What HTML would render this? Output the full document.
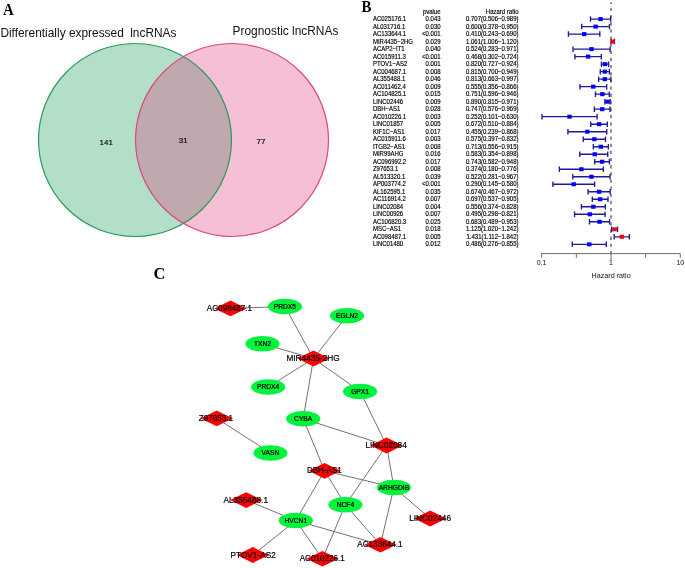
<!DOCTYPE html><html><head><meta charset="utf-8"><style>html,body{margin:0;padding:0;background:#fff;}svg{display:block;will-change:transform}.t{font-size:6px;fill:#000;stroke:#000;stroke-width:.15px}text{font-family:"Liberation Sans",sans-serif}.s{font-family:"Liberation Serif",serif;font-weight:bold}</style></head><body>
<svg width="685" height="568" viewBox="0 0 685 568">
<text class="s" transform="translate(3.1 15.1) scale(0.89 1)" font-size="16.8">A</text>
<text x="0.4" y="37" font-size="11.9" fill="#111">Differentially expressed</text>
<text x="130.2" y="37" font-size="11.9" fill="#111">lncRNAs</text>
<text x="232.6" y="35.3" font-size="11.9" fill="#111">Prognostic lncRNAs</text>
<defs><clipPath id="cg"><circle cx="135" cy="140" r="96.5"/></clipPath></defs>
<circle cx="135" cy="140" r="96.5" fill="#b3dfc8"/>
<circle cx="232" cy="140" r="96.5" fill="#f5bfd6"/>
<circle cx="232" cy="140" r="96.5" fill="#c0a9ae" clip-path="url(#cg)"/>
<circle cx="135" cy="140" r="96.5" fill="none" stroke="#2a9a5c" stroke-width="1.2"/>
<circle cx="232" cy="140" r="96.5" fill="none" stroke="#d9487e" stroke-width="1.2"/>
<text x="106.2" y="145.1" font-size="8" text-anchor="middle" fill="#000" stroke="#000" stroke-width="0.15">141</text>
<text x="183.3" y="143" font-size="8" text-anchor="middle" fill="#000" stroke="#000" stroke-width="0.15">31</text>
<text x="261" y="144" font-size="8" text-anchor="middle" fill="#000" stroke="#000" stroke-width="0.15">77</text>
<text class="s" transform="translate(361.6 11.8) scale(0.89 1)" font-size="16.8">B</text>
<text transform="translate(440.6 13.8) scale(1 1.06)" class="t" text-anchor="end">pvalue</text>
<text transform="translate(518.5 13.8) scale(1 1.06)" class="t" text-anchor="end">Hazard ratio</text>
<line x1="611.0" y1="2.2" x2="611.0" y2="259.5" stroke="#5a5a5a" stroke-width="1.35" stroke-dasharray="3.3 3.85" stroke-dashoffset="1.55"/>
<text transform="translate(372.9 21.20) scale(1 1.06)" class="t">AC025176.1</text>
<text transform="translate(440.6 21.20) scale(1 1.06)" class="t" text-anchor="end">0.043</text>
<text transform="translate(518.5 21.20) scale(1 1.06)" class="t" text-anchor="end">0.707(0.506−0.989)</text>
<path d="M590.50 19.10H610.67M590.50 16.35V21.85M610.67 16.35V21.85" stroke="#1c1c96" stroke-width="1.35" fill="none"/>
<rect x="598.36" y="17.10" width="4.4" height="4" fill="#0000ff"/>
<text transform="translate(372.9 28.71) scale(1 1.06)" class="t">AL031716.1</text>
<text transform="translate(440.6 28.71) scale(1 1.06)" class="t" text-anchor="end">0.030</text>
<text transform="translate(518.5 28.71) scale(1 1.06)" class="t" text-anchor="end">0.600(0.378−0.950)</text>
<path d="M581.72 26.61H609.46M581.72 23.86V29.36M609.46 23.86V29.36" stroke="#1c1c96" stroke-width="1.35" fill="none"/>
<rect x="593.43" y="24.61" width="4.4" height="4" fill="#0000ff"/>
<text transform="translate(372.9 36.21) scale(1 1.06)" class="t">AC133644.1</text>
<text transform="translate(440.6 36.21) scale(1 1.06)" class="t" text-anchor="end">&lt;0.001</text>
<text transform="translate(518.5 36.21) scale(1 1.06)" class="t" text-anchor="end">0.410(0.243−0.690)</text>
<path d="M568.42 34.11H599.83M568.42 31.36V36.86M599.83 31.36V36.86" stroke="#1c1c96" stroke-width="1.35" fill="none"/>
<rect x="581.97" y="32.11" width="4.4" height="4" fill="#0000ff"/>
<text transform="translate(372.9 43.72) scale(1 1.06)" class="t">MIR4435−2HG</text>
<text transform="translate(440.6 43.72) scale(1 1.06)" class="t" text-anchor="end">0.029</text>
<text transform="translate(518.5 43.72) scale(1 1.06)" class="t" text-anchor="end">1.061(1.006−1.120)</text>
<path d="M611.18 41.62H614.41M611.18 38.87V44.37M614.41 38.87V44.37" stroke="#1c1c96" stroke-width="1.35" fill="none"/>
<rect x="610.58" y="39.62" width="4.4" height="4" fill="#ff0000"/>
<text transform="translate(372.9 51.23) scale(1 1.06)" class="t">ACAP2−IT1</text>
<text transform="translate(440.6 51.23) scale(1 1.06)" class="t" text-anchor="end">0.040</text>
<text transform="translate(518.5 51.23) scale(1 1.06)" class="t" text-anchor="end">0.524(0.283−0.971)</text>
<path d="M573.01 49.13H610.11M573.01 46.38V51.88M610.11 46.38V51.88" stroke="#1c1c96" stroke-width="1.35" fill="none"/>
<rect x="589.35" y="47.13" width="4.4" height="4" fill="#0000ff"/>
<text transform="translate(372.9 58.73) scale(1 1.06)" class="t">AC015911.3</text>
<text transform="translate(440.6 58.73) scale(1 1.06)" class="t" text-anchor="end">&lt;0.001</text>
<text transform="translate(518.5 58.73) scale(1 1.06)" class="t" text-anchor="end">0.468(0.302−0.724)</text>
<path d="M574.96 56.63H601.28M574.96 53.88V59.38M601.28 53.88V59.38" stroke="#1c1c96" stroke-width="1.35" fill="none"/>
<rect x="585.95" y="54.63" width="4.4" height="4" fill="#0000ff"/>
<text transform="translate(372.9 66.24) scale(1 1.06)" class="t">PTOV1−AS2</text>
<text transform="translate(440.6 66.24) scale(1 1.06)" class="t" text-anchor="end">0.001</text>
<text transform="translate(518.5 66.24) scale(1 1.06)" class="t" text-anchor="end">0.820(0.727−0.924)</text>
<path d="M601.40 64.14H608.62M601.40 61.39V66.89M608.62 61.39V66.89" stroke="#1c1c96" stroke-width="1.35" fill="none"/>
<rect x="602.83" y="62.14" width="4.4" height="4" fill="#0000ff"/>
<text transform="translate(372.9 73.75) scale(1 1.06)" class="t">AC004687.1</text>
<text transform="translate(440.6 73.75) scale(1 1.06)" class="t" text-anchor="end">0.008</text>
<text transform="translate(518.5 73.75) scale(1 1.06)" class="t" text-anchor="end">0.815(0.700−0.949)</text>
<path d="M600.27 71.65H609.42M600.27 68.90V74.40M609.42 68.90V74.40" stroke="#1c1c96" stroke-width="1.35" fill="none"/>
<rect x="602.64" y="69.65" width="4.4" height="4" fill="#0000ff"/>
<text transform="translate(372.9 81.26) scale(1 1.06)" class="t">AL355488.1</text>
<text transform="translate(440.6 81.26) scale(1 1.06)" class="t" text-anchor="end">0.046</text>
<text transform="translate(518.5 81.26) scale(1 1.06)" class="t" text-anchor="end">0.813(0.663−0.997)</text>
<path d="M598.63 79.16H610.91M598.63 76.41V81.91M610.91 76.41V81.91" stroke="#1c1c96" stroke-width="1.35" fill="none"/>
<rect x="602.57" y="77.16" width="4.4" height="4" fill="#0000ff"/>
<text transform="translate(372.9 88.76) scale(1 1.06)" class="t">AC011462.4</text>
<text transform="translate(440.6 88.76) scale(1 1.06)" class="t" text-anchor="end">0.009</text>
<text transform="translate(518.5 88.76) scale(1 1.06)" class="t" text-anchor="end">0.555(0.356−0.866)</text>
<path d="M579.92 86.66H606.67M579.92 83.91V89.41M606.67 83.91V89.41" stroke="#1c1c96" stroke-width="1.35" fill="none"/>
<rect x="591.08" y="84.66" width="4.4" height="4" fill="#0000ff"/>
<text transform="translate(372.9 96.27) scale(1 1.06)" class="t">AC104825.1</text>
<text transform="translate(440.6 96.27) scale(1 1.06)" class="t" text-anchor="end">0.015</text>
<text transform="translate(518.5 96.27) scale(1 1.06)" class="t" text-anchor="end">0.751(0.596−0.946)</text>
<path d="M595.42 94.17H609.33M595.42 91.42V96.92M609.33 91.42V96.92" stroke="#1c1c96" stroke-width="1.35" fill="none"/>
<rect x="600.18" y="92.17" width="4.4" height="4" fill="#0000ff"/>
<text transform="translate(372.9 103.78) scale(1 1.06)" class="t">LINC02446</text>
<text transform="translate(440.6 103.78) scale(1 1.06)" class="t" text-anchor="end">0.009</text>
<text transform="translate(518.5 103.78) scale(1 1.06)" class="t" text-anchor="end">0.890(0.815−0.971)</text>
<path d="M604.84 101.68H610.11M604.84 98.93V104.43M610.11 98.93V104.43" stroke="#1c1c96" stroke-width="1.35" fill="none"/>
<rect x="605.29" y="99.68" width="4.4" height="4" fill="#0000ff"/>
<text transform="translate(372.9 111.28) scale(1 1.06)" class="t">DBH−AS1</text>
<text transform="translate(440.6 111.28) scale(1 1.06)" class="t" text-anchor="end">0.028</text>
<text transform="translate(518.5 111.28) scale(1 1.06)" class="t" text-anchor="end">0.747(0.576−0.969)</text>
<path d="M594.40 109.18H610.05M594.40 106.43V111.93M610.05 106.43V111.93" stroke="#1c1c96" stroke-width="1.35" fill="none"/>
<rect x="600.02" y="107.18" width="4.4" height="4" fill="#0000ff"/>
<text transform="translate(372.9 118.79) scale(1 1.06)" class="t">AC010226.1</text>
<text transform="translate(440.6 118.79) scale(1 1.06)" class="t" text-anchor="end">0.003</text>
<text transform="translate(518.5 118.79) scale(1 1.06)" class="t" text-anchor="end">0.252(0.101−0.630)</text>
<path d="M542.00 116.69H597.09M542.00 113.94V119.44M597.09 113.94V119.44" stroke="#1c1c96" stroke-width="1.35" fill="none"/>
<rect x="567.32" y="114.69" width="4.4" height="4" fill="#0000ff"/>
<text transform="translate(372.9 126.30) scale(1 1.06)" class="t">LINC01857</text>
<text transform="translate(440.6 126.30) scale(1 1.06)" class="t" text-anchor="end">0.005</text>
<text transform="translate(518.5 126.30) scale(1 1.06)" class="t" text-anchor="end">0.672(0.510−0.884)</text>
<path d="M590.73 124.20H607.29M590.73 121.45V126.95M607.29 121.45V126.95" stroke="#1c1c96" stroke-width="1.35" fill="none"/>
<rect x="596.84" y="122.20" width="4.4" height="4" fill="#0000ff"/>
<text transform="translate(372.9 133.80) scale(1 1.06)" class="t">KIF1C−AS1</text>
<text transform="translate(440.6 133.80) scale(1 1.06)" class="t" text-anchor="end">0.017</text>
<text transform="translate(518.5 133.80) scale(1 1.06)" class="t" text-anchor="end">0.455(0.239−0.868)</text>
<path d="M567.92 131.70H606.74M567.92 128.95V134.45M606.74 128.95V134.45" stroke="#1c1c96" stroke-width="1.35" fill="none"/>
<rect x="585.10" y="129.70" width="4.4" height="4" fill="#0000ff"/>
<text transform="translate(372.9 141.31) scale(1 1.06)" class="t">AC015911.6</text>
<text transform="translate(440.6 141.31) scale(1 1.06)" class="t" text-anchor="end">0.003</text>
<text transform="translate(518.5 141.31) scale(1 1.06)" class="t" text-anchor="end">0.575(0.397−0.832)</text>
<path d="M583.20 139.21H605.46M583.20 136.46V141.96M605.46 136.46V141.96" stroke="#1c1c96" stroke-width="1.35" fill="none"/>
<rect x="592.14" y="137.21" width="4.4" height="4" fill="#0000ff"/>
<text transform="translate(372.9 148.82) scale(1 1.06)" class="t">ITGB2−AS1</text>
<text transform="translate(440.6 148.82) scale(1 1.06)" class="t" text-anchor="end">0.008</text>
<text transform="translate(518.5 148.82) scale(1 1.06)" class="t" text-anchor="end">0.713(0.556−0.915)</text>
<path d="M593.33 146.72H608.33M593.33 143.97V149.47M608.33 143.97V149.47" stroke="#1c1c96" stroke-width="1.35" fill="none"/>
<rect x="598.62" y="144.72" width="4.4" height="4" fill="#0000ff"/>
<text transform="translate(372.9 156.33) scale(1 1.06)" class="t">MIR99AHG</text>
<text transform="translate(440.6 156.33) scale(1 1.06)" class="t" text-anchor="end">0.016</text>
<text transform="translate(518.5 156.33) scale(1 1.06)" class="t" text-anchor="end">0.583(0.354−0.898)</text>
<path d="M579.75 154.23H607.76M579.75 151.48V156.98M607.76 151.48V156.98" stroke="#1c1c96" stroke-width="1.35" fill="none"/>
<rect x="592.56" y="152.23" width="4.4" height="4" fill="#0000ff"/>
<text transform="translate(372.9 163.83) scale(1 1.06)" class="t">AC096992.2</text>
<text transform="translate(440.6 163.83) scale(1 1.06)" class="t" text-anchor="end">0.017</text>
<text transform="translate(518.5 163.83) scale(1 1.06)" class="t" text-anchor="end">0.743(0.582−0.948)</text>
<path d="M594.71 161.73H609.39M594.71 158.98V164.48M609.39 158.98V164.48" stroke="#1c1c96" stroke-width="1.35" fill="none"/>
<rect x="599.86" y="159.73" width="4.4" height="4" fill="#0000ff"/>
<text transform="translate(372.9 171.34) scale(1 1.06)" class="t">Z97653.1</text>
<text transform="translate(440.6 171.34) scale(1 1.06)" class="t" text-anchor="end">0.008</text>
<text transform="translate(518.5 171.34) scale(1 1.06)" class="t" text-anchor="end">0.374(0.180−0.776)</text>
<path d="M559.39 169.24H603.37M559.39 166.49V171.99M603.37 166.49V171.99" stroke="#1c1c96" stroke-width="1.35" fill="none"/>
<rect x="579.20" y="167.24" width="4.4" height="4" fill="#0000ff"/>
<text transform="translate(372.9 178.85) scale(1 1.06)" class="t">AL513320.1</text>
<text transform="translate(440.6 178.85) scale(1 1.06)" class="t" text-anchor="end">0.039</text>
<text transform="translate(518.5 178.85) scale(1 1.06)" class="t" text-anchor="end">0.522(0.281−0.967)</text>
<path d="M572.80 176.75H609.99M572.80 174.00V179.50M609.99 174.00V179.50" stroke="#1c1c96" stroke-width="1.35" fill="none"/>
<rect x="589.23" y="174.75" width="4.4" height="4" fill="#0000ff"/>
<text transform="translate(372.9 186.35) scale(1 1.06)" class="t">AP003774.2</text>
<text transform="translate(440.6 186.35) scale(1 1.06)" class="t" text-anchor="end">&lt;0.001</text>
<text transform="translate(518.5 186.35) scale(1 1.06)" class="t" text-anchor="end">0.290(0.145−0.580)</text>
<path d="M552.88 184.25H594.61M552.88 181.50V187.00M594.61 181.50V187.00" stroke="#1c1c96" stroke-width="1.35" fill="none"/>
<rect x="571.54" y="182.25" width="4.4" height="4" fill="#0000ff"/>
<text transform="translate(372.9 193.86) scale(1 1.06)" class="t">AL162595.1</text>
<text transform="translate(440.6 193.86) scale(1 1.06)" class="t" text-anchor="end">0.035</text>
<text transform="translate(518.5 193.86) scale(1 1.06)" class="t" text-anchor="end">0.674(0.467−0.972)</text>
<path d="M588.08 191.76H610.15M588.08 189.01V194.51M610.15 189.01V194.51" stroke="#1c1c96" stroke-width="1.35" fill="none"/>
<rect x="596.93" y="189.76" width="4.4" height="4" fill="#0000ff"/>
<text transform="translate(372.9 201.37) scale(1 1.06)" class="t">AC116914.2</text>
<text transform="translate(440.6 201.37) scale(1 1.06)" class="t" text-anchor="end">0.007</text>
<text transform="translate(518.5 201.37) scale(1 1.06)" class="t" text-anchor="end">0.697(0.537−0.905)</text>
<path d="M592.29 199.27H608.00M592.29 196.52V202.02M608.00 196.52V202.02" stroke="#1c1c96" stroke-width="1.35" fill="none"/>
<rect x="597.94" y="197.27" width="4.4" height="4" fill="#0000ff"/>
<text transform="translate(372.9 208.87) scale(1 1.06)" class="t">LINC02084</text>
<text transform="translate(440.6 208.87) scale(1 1.06)" class="t" text-anchor="end">0.004</text>
<text transform="translate(518.5 208.87) scale(1 1.06)" class="t" text-anchor="end">0.556(0.374−0.828)</text>
<path d="M581.40 206.77H605.32M581.40 204.02V209.52M605.32 204.02V209.52" stroke="#1c1c96" stroke-width="1.35" fill="none"/>
<rect x="591.13" y="204.77" width="4.4" height="4" fill="#0000ff"/>
<text transform="translate(372.9 216.38) scale(1 1.06)" class="t">LINC00926</text>
<text transform="translate(440.6 216.38) scale(1 1.06)" class="t" text-anchor="end">0.007</text>
<text transform="translate(518.5 216.38) scale(1 1.06)" class="t" text-anchor="end">0.495(0.298−0.821)</text>
<path d="M574.56 214.28H605.06M574.56 211.53V217.03M605.06 211.53V217.03" stroke="#1c1c96" stroke-width="1.35" fill="none"/>
<rect x="587.64" y="212.28" width="4.4" height="4" fill="#0000ff"/>
<text transform="translate(372.9 223.89) scale(1 1.06)" class="t">AC106820.3</text>
<text transform="translate(440.6 223.89) scale(1 1.06)" class="t" text-anchor="end">0.025</text>
<text transform="translate(518.5 223.89) scale(1 1.06)" class="t" text-anchor="end">0.683(0.489−0.953)</text>
<path d="M589.47 221.79H609.55M589.47 219.04V224.54M609.55 219.04V224.54" stroke="#1c1c96" stroke-width="1.35" fill="none"/>
<rect x="597.33" y="219.79" width="4.4" height="4" fill="#0000ff"/>
<text transform="translate(372.9 231.40) scale(1 1.06)" class="t">MSC−AS1</text>
<text transform="translate(440.6 231.40) scale(1 1.06)" class="t" text-anchor="end">0.018</text>
<text transform="translate(518.5 231.40) scale(1 1.06)" class="t" text-anchor="end">1.125(1.020−1.242)</text>
<path d="M611.60 229.30H617.52M611.60 226.55V232.05M617.52 226.55V232.05" stroke="#1c1c96" stroke-width="1.35" fill="none"/>
<rect x="612.34" y="227.30" width="4.4" height="4" fill="#ff0000"/>
<text transform="translate(372.9 238.90) scale(1 1.06)" class="t">AC098487.1</text>
<text transform="translate(440.6 238.90) scale(1 1.06)" class="t" text-anchor="end">0.005</text>
<text transform="translate(518.5 238.90) scale(1 1.06)" class="t" text-anchor="end">1.431(1.112−1.842)</text>
<path d="M614.20 236.80H629.38M614.20 234.05V239.55M629.38 234.05V239.55" stroke="#1c1c96" stroke-width="1.35" fill="none"/>
<rect x="619.59" y="234.80" width="4.4" height="4" fill="#ff0000"/>
<text transform="translate(372.9 246.41) scale(1 1.06)" class="t">LINC01480</text>
<text transform="translate(440.6 246.41) scale(1 1.06)" class="t" text-anchor="end">0.012</text>
<text transform="translate(518.5 246.41) scale(1 1.06)" class="t" text-anchor="end">0.486(0.276−0.855)</text>
<path d="M572.25 244.31H606.29M572.25 241.56V247.06M606.29 241.56V247.06" stroke="#1c1c96" stroke-width="1.35" fill="none"/>
<rect x="587.08" y="242.31" width="4.4" height="4" fill="#0000ff"/>
<path d="M541.3 253.6H680.3M541.70 253.6V257.8M576.35 253.6V257.8M611.00 253.6V257.8M645.65 253.6V257.8M680.30 253.6V257.8" stroke="#6e6e6e" stroke-width="1" fill="none"/>
<text x="541.5" y="264.9" font-size="7" text-anchor="middle" fill="#111">0.1</text>
<text x="611" y="264.9" font-size="7" text-anchor="middle" fill="#111">1</text>
<text x="680.3" y="264.9" font-size="7" text-anchor="middle" fill="#111">10</text>
<text x="611.1" y="277.8" font-size="7.2" text-anchor="middle" fill="#111">Hazard ratio</text>
<text class="s" transform="translate(153.5 279.2) scale(0.97 1)" font-size="16.8">C</text>
<path d="M230.5 308.4L284.9 306.5M284.9 306.5L313.5 358.5M347.0 315.7L313.5 358.5M262.5 343.7L313.5 358.5M268.1 387.0L313.5 358.5M360.1 391.4L313.5 358.5M303.2 418.7L313.5 358.5M360.1 391.4L386.6 445.5M303.2 418.7L386.6 445.5M303.2 418.7L324.6 470.8M216.7 418.4L270.4 452.9M386.6 445.5L345.4 504.8M386.6 445.5L393.9 487.4M324.6 470.8L393.9 487.4M324.6 470.8L345.4 504.8M324.6 470.8L295.8 520.5M246.2 500.1L295.8 520.5M295.8 520.5L252.9 555.0M295.8 520.5L322.4 558.8M295.8 520.5L380.4 544.8M345.4 504.8L322.4 558.8M345.4 504.8L380.4 544.8M393.9 487.4L380.4 544.8M393.9 487.4L430.2 518.5" stroke="#737373" stroke-width="1" fill="none"/>
<path d="M214.4 308.4L230.5 300.5L246.6 308.4L230.5 316.2Z" fill="#ff0000"/>
<path d="M297.4 358.5L313.5 350.6L329.6 358.5L313.5 366.4Z" fill="#ff0000"/>
<path d="M200.6 418.4L216.7 410.5L232.8 418.4L216.7 426.2Z" fill="#ff0000"/>
<path d="M370.5 445.5L386.6 437.6L402.7 445.5L386.6 453.4Z" fill="#ff0000"/>
<path d="M308.5 470.8L324.6 462.9L340.7 470.8L324.6 478.7Z" fill="#ff0000"/>
<path d="M230.1 500.1L246.2 492.2L262.3 500.1L246.2 508.0Z" fill="#ff0000"/>
<path d="M414.1 518.5L430.2 510.6L446.3 518.5L430.2 526.4Z" fill="#ff0000"/>
<path d="M236.8 555.0L252.9 547.1L269.0 555.0L252.9 562.9Z" fill="#ff0000"/>
<path d="M306.3 558.8L322.4 550.9L338.5 558.8L322.4 566.6Z" fill="#ff0000"/>
<path d="M364.3 544.8L380.4 536.9L396.5 544.8L380.4 552.6Z" fill="#ff0000"/>
<ellipse cx="284.9" cy="306.5" rx="17.1" ry="7.75" fill="#02f33c"/>
<ellipse cx="347" cy="315.7" rx="17.1" ry="7.75" fill="#02f33c"/>
<ellipse cx="262.5" cy="343.7" rx="17.1" ry="7.75" fill="#02f33c"/>
<ellipse cx="268.1" cy="387" rx="17.1" ry="7.75" fill="#02f33c"/>
<ellipse cx="360.1" cy="391.4" rx="17.1" ry="7.75" fill="#02f33c"/>
<ellipse cx="303.2" cy="418.7" rx="17.1" ry="7.75" fill="#02f33c"/>
<ellipse cx="270.4" cy="452.9" rx="17.1" ry="7.75" fill="#02f33c"/>
<ellipse cx="393.9" cy="487.4" rx="17.1" ry="7.75" fill="#02f33c"/>
<ellipse cx="345.4" cy="504.8" rx="17.1" ry="7.75" fill="#02f33c"/>
<ellipse cx="295.8" cy="520.5" rx="17.1" ry="7.75" fill="#02f33c"/>
<text x="206.8" y="310.9" font-size="8.6" textLength="45.3" lengthAdjust="spacingAndGlyphs" fill="#000" stroke="#000" stroke-width="0.2">AC098487.1</text>
<text x="286.4" y="361.0" font-size="8.6" textLength="53.3" lengthAdjust="spacingAndGlyphs" fill="#000" stroke="#000" stroke-width="0.2">MIR4435-2HG</text>
<text x="198.8" y="420.9" font-size="8.6" textLength="34.2" lengthAdjust="spacingAndGlyphs" fill="#000" stroke="#000" stroke-width="0.2">Z97653.1</text>
<text x="365.4" y="448.0" font-size="8.6" textLength="41.3" lengthAdjust="spacingAndGlyphs" fill="#000" stroke="#000" stroke-width="0.2">LINC02084</text>
<text x="307.0" y="473.3" font-size="8.6" textLength="34.7" lengthAdjust="spacingAndGlyphs" fill="#000" stroke="#000" stroke-width="0.2">DBH-AS1</text>
<text x="223.4" y="502.6" font-size="8.6" textLength="44.6" lengthAdjust="spacingAndGlyphs" fill="#000" stroke="#000" stroke-width="0.2">AL355488.1</text>
<text x="409.2" y="521.0" font-size="8.6" textLength="41.9" lengthAdjust="spacingAndGlyphs" fill="#000" stroke="#000" stroke-width="0.2">LINC02446</text>
<text x="230.5" y="557.5" font-size="8.6" textLength="45.3" lengthAdjust="spacingAndGlyphs" fill="#000" stroke="#000" stroke-width="0.2">PTOV1-AS2</text>
<text x="299.7" y="561.3" font-size="8.6" textLength="45.0" lengthAdjust="spacingAndGlyphs" fill="#000" stroke="#000" stroke-width="0.2">AC010226.1</text>
<text x="357.2" y="547.3" font-size="8.6" textLength="45.5" lengthAdjust="spacingAndGlyphs" fill="#000" stroke="#000" stroke-width="0.2">AC133644.1</text>
<text x="284.9" y="308.7" font-size="6.7" text-anchor="middle" fill="#000" stroke="#000" stroke-width="0.22">PRDX5</text>
<text x="347.0" y="317.9" font-size="6.7" text-anchor="middle" fill="#000" stroke="#000" stroke-width="0.22">EGLN2</text>
<text x="262.5" y="345.9" font-size="6.7" text-anchor="middle" fill="#000" stroke="#000" stroke-width="0.22">TXN2</text>
<text x="268.1" y="389.2" font-size="6.7" text-anchor="middle" fill="#000" stroke="#000" stroke-width="0.22">PRDX4</text>
<text x="360.1" y="393.6" font-size="6.7" text-anchor="middle" fill="#000" stroke="#000" stroke-width="0.22">GPX1</text>
<text x="303.2" y="420.9" font-size="6.7" text-anchor="middle" fill="#000" stroke="#000" stroke-width="0.22">CYBA</text>
<text x="270.4" y="455.1" font-size="6.7" text-anchor="middle" fill="#000" stroke="#000" stroke-width="0.22">VASN</text>
<text x="393.9" y="489.6" font-size="6.7" text-anchor="middle" fill="#000" stroke="#000" stroke-width="0.22">ARHGDIB</text>
<text x="345.4" y="507.0" font-size="6.7" text-anchor="middle" fill="#000" stroke="#000" stroke-width="0.22">NCF4</text>
<text x="295.8" y="522.7" font-size="6.7" text-anchor="middle" fill="#000" stroke="#000" stroke-width="0.22">HVCN1</text>
</svg></body></html>
